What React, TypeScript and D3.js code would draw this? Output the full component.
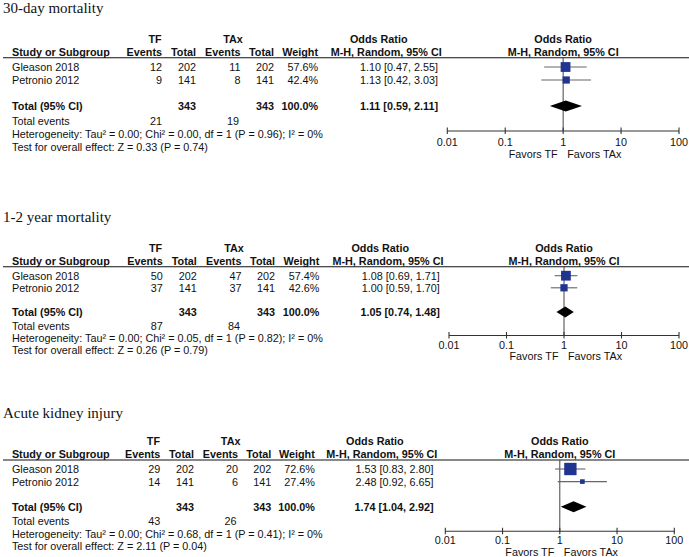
import * as d3 from "d3";

const W = 689;
const H = 557;

const outcomes = ["30-day mortality", "1-2 year mortality", "Acute kidney injury"];
const studies = ["Gleason 2018", "Petronio 2012"];
const tfTotal = [202, 141];
const taxTotal = [202, 141];
const tfEvents = [[12, 9], [50, 37], [29, 14]];
const taxEvents = [[11, 8], [47, 37], [20, 6]];
const weights = [[57.6, 42.4], [57.4, 42.6], [72.6, 27.4]];
const orEst = [[1.1, 1.13], [1.08, 1.0], [1.53, 2.48]];
const orLo = [[0.47, 0.42], [0.69, 0.59], [0.83, 0.92]];
const orHi = [[2.55, 3.03], [1.71, 1.7], [2.8, 6.65]];
const pooledEst = [1.11, 1.05, 1.74];
const pooledLo = [0.59, 0.74, 1.04];
const pooledHi = [2.11, 1.48, 2.92];
const totalEventsTF = [21, 87, 43];
const totalEventsTAx = [19, 84, 26];
const heterogeneity = [
  "Heterogeneity: Tau² = 0.00; Chi² = 0.00, df = 1 (P = 0.96); I² = 0%",
  "Heterogeneity: Tau² = 0.00; Chi² = 0.05, df = 1 (P = 0.82); I² = 0%",
  "Heterogeneity: Tau² = 0.00; Chi² = 0.68, df = 1 (P = 0.41); I² = 0%",
];
const overallEffect = [
  "Test for overall effect: Z = 0.33 (P = 0.74)",
  "Test for overall effect: Z = 0.26 (P = 0.79)",
  "Test for overall effect: Z = 2.11 (P = 0.04)",
];
const axisTicks = [0.01, 0.1, 1, 10, 100];
const axisLabels = ["0.01", "0.1", "1", "10", "100"];

// per-panel placement (each panel in the picture is scaled a little differently)
const LAYOUT = [
  { sx: 1, ax: [447.3, 679], title: 13, line: 57.7, row0: 67, step: 13, axis: 131, tick: 141.7, fav: 154.3 },
  { sx: 1.004, ax: [449, 679], title: 222, line: 266.7, row0: 275.7, step: 12.1, axis: 335.5, tick: 345.3, fav: 356 },
  { sx: 0.99, ax: [445.3, 674.3], title: 418, line: 460, row0: 469, step: 12.6, axis: 531.3, tick: 539.6, fav: 551.5 },
];

// right edges of table columns in panel-1 units
const COL = { study: 12, tfEv: 162, tfTot: 196, taxEv: 240.5, taxTot: 274, weight: 318, or: 438, orHdr: 441.7 };
const SLOTS = [0, 1, 3, 4.15, 5.15, 6.15];

const FONT = "Arial, 'Liberation Sans', Helvetica, sans-serif";
const BLUE = "#1f3590";

function Panel({ i }: { i: number }) {
  const L = LAYOUT[i];
  const cx = (v: number) => v * L.sx;
  const x = d3.scaleLog().domain([0.01, 100]).range(L.ax);
  const y = d3.scaleLinear().domain([0, 1]).range([L.row0, L.row0 + L.step]);
  const box = d3.scaleLinear().domain([0, 100]).range([0, 17]);
  const x1 = x(1);
  const h1 = L.line - 19;
  const h2 = L.line - 5.7;
  const fs = 10.8;
  const T = (props: any) => (
    <text dominantBaseline="central" fontSize={fs} fontFamily={FONT} fill="#111" {...props} />
  );
  const ySum = y(SLOTS[2]);
  const dh = 5.5;
  const diamond = [
    [x(pooledLo[i]), ySum],
    [x(pooledEst[i]), ySum - dh],
    [x(pooledHi[i]), ySum],
    [x(pooledEst[i]), ySum + dh],
  ];

  return (
    <g>
      <text x={3} y={L.title} fontSize={15} fontFamily="'Liberation Serif', 'Times New Roman', serif" fill="#111">
        {outcomes[i]}
      </text>

      {/* header */}
      <T x={cx(155)} y={h1} textAnchor="middle" fontWeight="bold">TF</T>
      <T x={cx(233)} y={h1} textAnchor="middle" fontWeight="bold">TAx</T>
      <T x={cx(378.7)} y={h1} textAnchor="middle" fontWeight="bold">Odds Ratio</T>
      <T x={x1} y={h1} textAnchor="middle" fontWeight="bold">Odds Ratio</T>
      <T x={cx(COL.study)} y={h2} fontWeight="bold">Study or Subgroup</T>
      <T x={cx(COL.tfEv)} y={h2} textAnchor="end" fontWeight="bold">Events</T>
      <T x={cx(COL.tfTot)} y={h2} textAnchor="end" fontWeight="bold">Total</T>
      <T x={cx(COL.taxEv)} y={h2} textAnchor="end" fontWeight="bold">Events</T>
      <T x={cx(COL.taxTot)} y={h2} textAnchor="end" fontWeight="bold">Total</T>
      <T x={cx(COL.weight)} y={h2} textAnchor="end" fontWeight="bold">Weight</T>
      <T x={cx(COL.orHdr)} y={h2} textAnchor="end" fontWeight="bold">M-H, Random, 95% CI</T>
      <T x={x1} y={h2} textAnchor="middle" fontWeight="bold">M-H, Random, 95% CI</T>
      <line x1={3} x2={W} y1={L.line} y2={L.line} stroke="#111" strokeWidth={1.1} />

      {/* reference line */}
      <line x1={x1} x2={x1} y1={L.line} y2={L.axis} stroke="#444" strokeWidth={1} />

      {/* study rows */}
      {studies.map((s, j) => {
        const yy = y(SLOTS[j]);
        const side = box(weights[i][j]);
        return (
          <g key={s}>
            <T x={cx(COL.study)} y={yy}>{s}</T>
            <T x={cx(COL.tfEv)} y={yy} textAnchor="end">{tfEvents[i][j]}</T>
            <T x={cx(COL.tfTot)} y={yy} textAnchor="end">{tfTotal[j]}</T>
            <T x={cx(COL.taxEv)} y={yy} textAnchor="end">{taxEvents[i][j]}</T>
            <T x={cx(COL.taxTot)} y={yy} textAnchor="end">{taxTotal[j]}</T>
            <T x={cx(COL.weight)} y={yy} textAnchor="end">{weights[i][j].toFixed(1)}%</T>
            <T x={cx(COL.or)} y={yy} textAnchor="end">
              {`${orEst[i][j].toFixed(2)} [${orLo[i][j].toFixed(2)}, ${orHi[i][j].toFixed(2)}]`}
            </T>
            <line x1={x(orLo[i][j])} x2={x(orHi[i][j])} y1={yy} y2={yy} stroke="#666" strokeWidth={1.1} />
            <rect x={x(orEst[i][j]) - side / 2} y={yy - side / 2} width={side} height={side} fill={BLUE} />
          </g>
        );
      })}

      {/* total */}
      <T x={cx(COL.study)} y={ySum} fontWeight="bold">Total (95% CI)</T>
      <T x={cx(COL.tfTot)} y={ySum} textAnchor="end" fontWeight="bold">{d3.sum(tfTotal)}</T>
      <T x={cx(COL.taxTot)} y={ySum} textAnchor="end" fontWeight="bold">{d3.sum(taxTotal)}</T>
      <T x={cx(COL.weight)} y={ySum} textAnchor="end" fontWeight="bold">100.0%</T>
      <T x={cx(COL.or)} y={ySum} textAnchor="end" fontWeight="bold">
        {`${pooledEst[i].toFixed(2)} [${pooledLo[i].toFixed(2)}, ${pooledHi[i].toFixed(2)}]`}
      </T>
      <polygon points={diamond.map((p) => p.join(",")).join(" ")} fill="#000" />

      <T x={cx(COL.study)} y={y(SLOTS[3])}>Total events</T>
      <T x={cx(COL.tfEv)} y={y(SLOTS[3])} textAnchor="end">{totalEventsTF[i]}</T>
      <T x={cx(COL.taxEv) - 1.5} y={y(SLOTS[3])} textAnchor="end">{totalEventsTAx[i]}</T>
      <T x={cx(COL.study)} y={y(SLOTS[4])}>{heterogeneity[i]}</T>
      <T x={cx(COL.study)} y={y(SLOTS[5])}>{overallEffect[i]}</T>

      {/* axis */}
      <line x1={L.ax[0]} x2={L.ax[1]} y1={L.axis} y2={L.axis} stroke="#333" strokeWidth={1.1} />
      {axisTicks.map((t, k) => (
        <g key={t}>
          <line x1={x(t)} x2={x(t)} y1={L.axis - 3.5} y2={L.axis + 3} stroke="#333" strokeWidth={1.1} />
          <T x={x(t)} y={L.tick} textAnchor="middle">{axisLabels[k]}</T>
        </g>
      ))}
      <T x={x1 - 5.5} y={L.fav} textAnchor="end">Favors TF</T>
      <T x={x1 + 4} y={L.fav}>Favors TAx</T>
    </g>
  );
}

export default function App() {
  return (
    <svg
      width={W}
      height={H}
      style={{ position: "absolute", left: 0, top: 0, display: "block", background: "#fff" }}
    >
      <rect width={W} height={H} fill="#fff" />
      {outcomes.map((o, i) => (
        <Panel key={o} i={i} />
      ))}
    </svg>
  );
}
